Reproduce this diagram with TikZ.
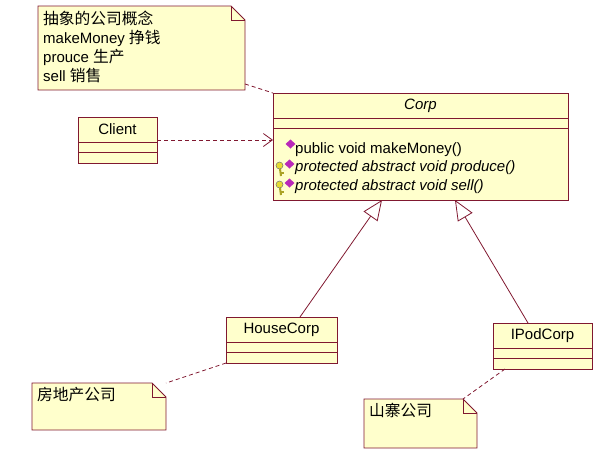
\documentclass[tikz,border=0pt]{standalone}
\usepackage{fontspec}
\setmainfont{Liberation Sans}
\newfontfamily\cjk[Scale=1.05]{Noto Sans CJK SC}
\usetikzlibrary{arrows.meta}

\definecolor{umlfill}{RGB}{255,255,204}
\definecolor{umlline}{RGB}{128,24,48}
\definecolor{opdiamond}{RGB}{185,40,185}
\definecolor{keyyellow}{RGB}{228,218,50}

\begin{document}
\begin{tikzpicture}[
  x=1pt, y=-1pt,
  font=\fontsize{15}{19}\selectfont,
  classbox/.style={rectangle, draw=umlline, fill=umlfill, line width=0.9pt, inner sep=0pt, outer sep=0pt, minimum height=46pt},
  notebox/.style={rectangle, inner sep=0pt, outer sep=0pt},
  noteline/.style={draw=umlline, fill=umlfill, line width=0.9pt},
  notetext/.style={inner sep=0pt, align=left, anchor=north west},
  sep/.style={draw=umlline, line width=0.9pt},
  dep/.style={draw=umlline, dash pattern=on 4pt off 3pt, line width=0.8pt},
  call/.style={dep, -{Straight Barb[length=9pt, width=13pt]}},
  inherit/.style={draw=umlline, line width=0.8pt, -{Triangle[open, length=20pt, width=17pt, fill=white]}}
]
  \useasboundingbox (0,0) rectangle (613,459);

  % classes
  \node [classbox, minimum width=295pt, minimum height=107pt] (corp) at (420.5,146.5) {};
  \node [classbox, minimum width=79pt] (client) at (117.5,140) {};
  \node [classbox, minimum width=111pt] (house) at (281.5,340) {};
  \node [classbox, minimum width=99pt] (ipod) at (542.5,346) {};
  \foreach \c in {corp,client,house,ipod} {
    \draw [sep] ([yshift=-25pt]\c.north west) -- ([yshift=-25pt]\c.north east);
    \draw [sep] ([yshift=-35pt]\c.north west) -- ([yshift=-35pt]\c.north east);
  }
  \node at ([yshift=-12.5pt]corp.north) {\itshape Corp};
  \node at ([yshift=-12.5pt]client.north) {Client};
  \node at ([yshift=-12.5pt]house.north) {HouseCorp};
  \node at ([yshift=-12.5pt]ipod.north) {IPodCorp};

  % operations of Corp
  \node [anchor=west, inner sep=0pt] (op1) at (295,150) {public void makeMoney()};
  \node [anchor=west, inner sep=0pt] (op2) at (295,168) {\itshape protected abstract void produce()};
  \node [anchor=west, inner sep=0pt] (op3) at (295,187) {\itshape protected abstract void sell()};
  \fill [opdiamond] (285.5,144) -- (290.5,139.5) -- (295.5,144) -- (290.5,148.5) -- cycle;
  \foreach \y in {164,183} {
    \fill [opdiamond] (284.5,\y) -- (289.5,\y-4.5) -- (294.5,\y) -- (289.5,\y+4.5) -- cycle;
    \draw [fill=keyyellow, draw=black!55, line width=0.5pt] (279.5,\y+1.5) circle (3.5);
    \draw [keyyellow!75!black, line width=2pt] (280,\y+5) -- (281,\y+12);
    \draw [keyyellow!75!black, line width=1.2pt] (281,\y+9) -- (284,\y+9);
  }

  % notes
  \node [notebox, minimum width=207pt, minimum height=84pt] (n1) at (141.5,48) {};
  \node [notebox, minimum width=134pt, minimum height=47pt] (n2) at (99,406.5) {};
  \node [notebox, minimum width=113pt, minimum height=49pt] (n3) at (420.5,423.5) {};
  \foreach \n in {n1,n2,n3} {
    \draw [noteline] (\n.north west) -- ([xshift=-14pt]\n.north east) -- ([yshift=-14pt]\n.north east)
      -- (\n.south east) -- (\n.south west) -- cycle;
    \draw [noteline, fill=none] ([xshift=-14pt]\n.north east) |- ([yshift=-14pt]\n.north east);
  }
  \node [notetext] (t1) at ([xshift=5pt, yshift=-5pt]n1.north west)
    {{\cjk 抽象的公司概念}\\makeMoney {\cjk 挣钱}\\prouce {\cjk 生产}\\sell {\cjk 销售}};
  \node [notetext] (t2) at ([xshift=5pt, yshift=-4pt]n2.north west) {\cjk 房地产公司};
  \node [notetext] (t3) at ([xshift=5pt, yshift=-4pt]n3.north west) {\cjk 山寨公司};

  % connectors
  \draw [dep] ([yshift=6pt]n1.south east) -- (corp.north west);
  \draw [call] (client.east) -- (client.east -| corp.west);
  \draw [inherit] ([xshift=18.5pt]house.north) -- ([xshift=-38.5pt]corp.south);
  \draw [inherit] ([xshift=-14.5pt]ipod.north) -- ([xshift=34.5pt]corp.south);
  \draw [dep] (house.south west) -- (n2.north east);
  \draw [dep] ([xshift=12pt]ipod.south west) -- ([xshift=-14pt]n3.north east);
\end{tikzpicture}
\end{document}
